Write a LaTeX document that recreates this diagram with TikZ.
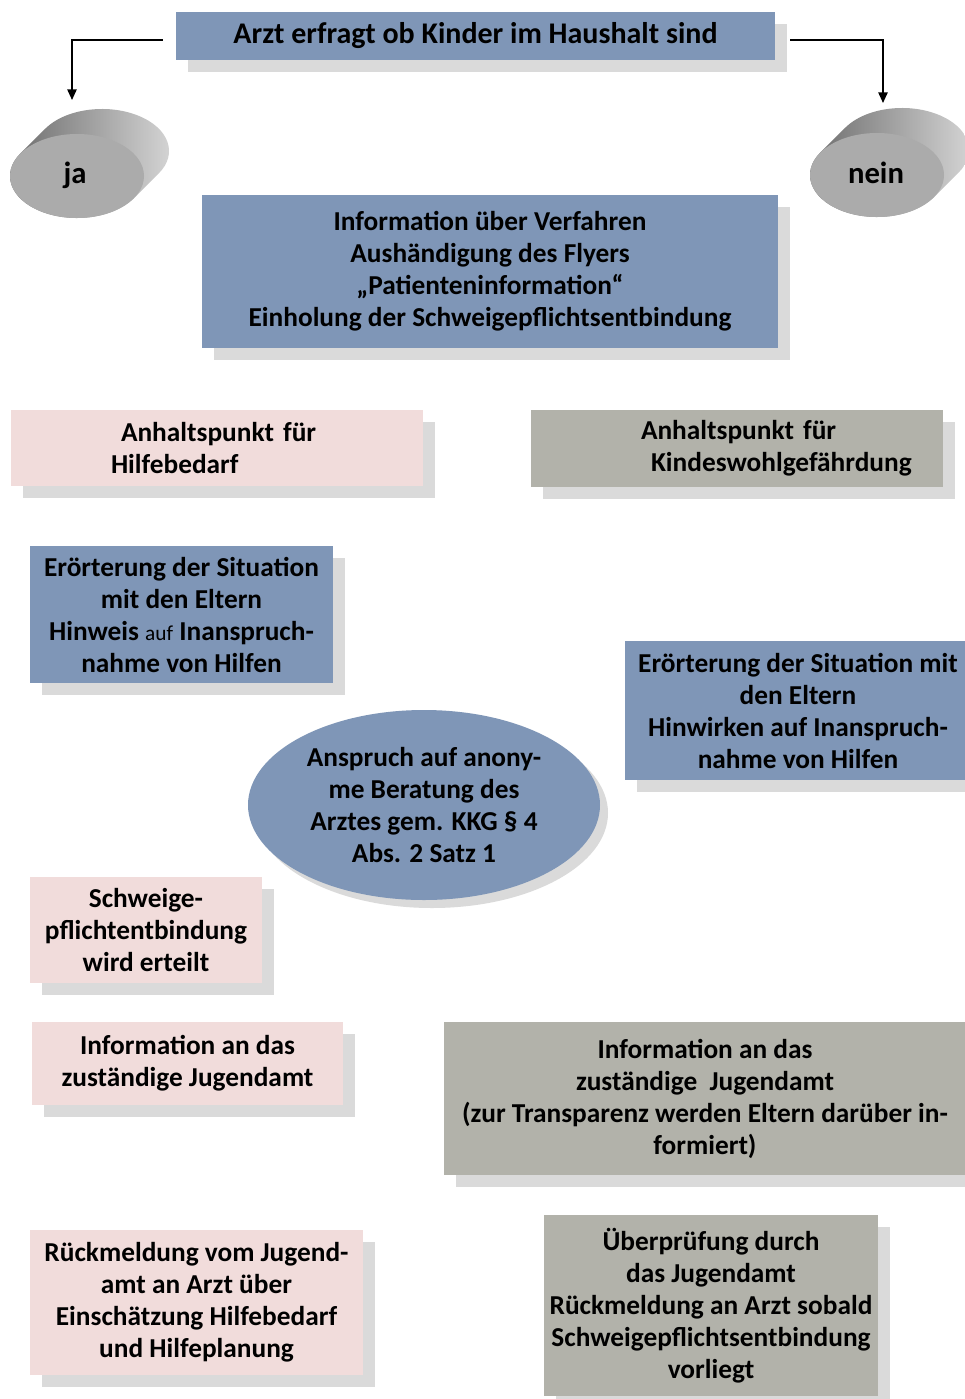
\documentclass[tikz,border=0pt]{standalone}
\usepackage{fontspec}
\setmainfont{Carlito}
\usetikzlibrary{arrows.meta,shapes.geometric}
\definecolor{tileblue}{RGB}{127,150,183}
\definecolor{tilepink}{RGB}{241,220,219}
\definecolor{tilegrey}{RGB}{178,178,170}
\definecolor{tileshadow}{RGB}{218,218,218}
\tikzset{
	tile/.style={rectangle, inner sep=0pt, align=center, font=\fontsize{20.5}{24}\selectfont\bfseries},
	link/.style={line width=1.2pt, -{Triangle[length=8pt,width=7pt]}},
}
\def\tile[#1](#2,#3)(#4,#5)#6#7{%
	\fill[tileshadow] ({#2+12},{#3+12}) rectangle ({#4+12},{#5+12});
	\node[tile, #1, minimum width={(#4-#2)*0.75pt}, minimum height={(#5-#3)*0.75pt}] (#6) at ({(#2+#4)/2},{(#3+#5)/2}) {#7};}
\def\drum(#1,#2){%
	\shade[left color=black!60, right color=black!15] ({#1+56.8},{#2+22.3}) -- ({#1+81.8},{#2-2.7}) arc[start angle=32.08, end angle=-147.92, x radius=67, y radius=42] -- ({#1-56.8},{#2-22.3}) arc[start angle=212.08, end angle=32.08, x radius=67, y radius=42] -- cycle;
	\fill[black!33] (#1,#2) ellipse (67 and 42);}

\begin{document}
\begin{tikzpicture}[x=0.75pt, y=-0.75pt]
			%%%%% START %%%%%
			\fill[white] (0,0) rectangle (964,1399);
			\useasboundingbox (0,0) rectangle (964,1399);
			
			\tile[fill=tileblue, font=\fontsize{22.5}{24}\selectfont\bfseries](176,12)(775,60){ask}{Arzt erfragt ob Kinder im Haushalt sind}
			
			\drum(77,176)
			\drum(877,175)
			\node[font=\fontsize{23}{24}\selectfont\bfseries] (ja) at (75,175) {ja};
			\node[font=\fontsize{23}{24}\selectfont\bfseries] (nein) at (876,173) {nein};
			\coordinate (jaTip) at (72,100);
			\coordinate (neinTip) at (883,103);
			\draw[link] ([shift={(-13,4)}]ask.west) -| (jaTip);
			\draw[link] ([shift={(15,4)}]ask.east) -| (neinTip);
			
			\tile[fill=tileblue](202,195)(778,348){inform}{Information über Verfahren\\Aushändigung des Flyers\\„Patienteninformation“\\Einholung der Schweigepflichtsentbindung}
			
			\tile[fill=tilepink, align=left, text width=309pt](11,410)(423,486){help}{\hspace*{82.5pt}Anhaltspunkt für\\\hspace*{75pt}Hilfebedarf}
			\tile[fill=tilegrey, align=left, text width=309pt](531,410)(943,487){risk}{\hspace*{82.5pt}Anhaltspunkt für\\\hspace*{90pt}Kindeswohlgefährdung}
			
			\tile[fill=tileblue](30,546)(333,683){talkhelp}{Erörterung der Situation\\mit den Eltern\\Hinweis {\mdseries\fontsize{16}{24}\selectfont auf} Inanspruch-\\nahme von Hilfen}
			\tile[fill=tileblue](625,641)(971,780){talkrisk}{Erörterung der Situation mit\\den Eltern\\Hinwirken auf Inanspruch-\\nahme von Hilfen}
			
			\fill[tileshadow] (432,813) ellipse (176 and 95);
			\node[tile, ellipse, fill=tileblue, minimum width=264pt, minimum height=142.5pt] (advice) at (424,805) {Anspruch auf anony-\\me Beratung des\\Arztes gem. KKG § 4\\Abs. 2 Satz 1};
			
			\tile[fill=tilepink](30,877)(262,983){release}{Schweige-\\pflichtentbindung\\wird erteilt}
			
			\tile[fill=tilepink](32,1022)(343,1105){infohelp}{Information an das\\zuständige Jugendamt}
			\tile[fill=tilegrey](444,1022)(966,1175){inforisk}{Information an das\\zuständige\ \ Jugendamt\\(zur Transparenz werden Eltern darüber in-\\formiert)}
			
			\tile[fill=tilepink](30,1230)(363,1375){reply}{Rückmeldung vom Jugend-\\amt an Arzt über\\Einschätzung Hilfebedarf\\und Hilfeplanung}
			\tile[fill=tilegrey](544,1215)(878,1396){review}{Überprüfung durch\\das Jugendamt\\Rückmeldung an Arzt sobald\\Schweigepflichtsentbindung\\vorliegt}
			
			%%%%% END %%%%%
\end{tikzpicture}
\end{document}
